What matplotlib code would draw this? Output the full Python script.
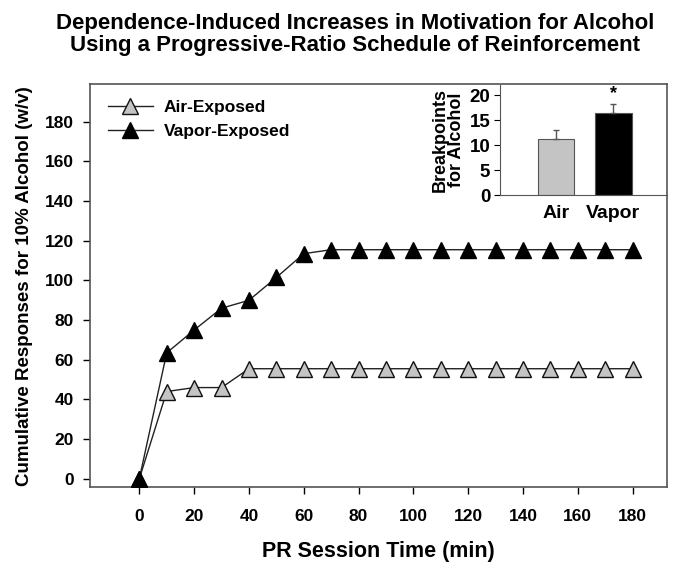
import numpy as np
import matplotlib
matplotlib.use('Agg')
from matplotlib import pyplot as plt

# data
time_min = [0, 10, 20, 30, 40, 50, 60, 70, 80, 90, 100, 110, 120, 130, 140, 150, 160, 170, 180]
air_exposed = [0, 44, 46, 46, 55.5, 55.5, 55.5, 55.5, 55.5, 55.5, 55.5, 55.5, 55.5, 55.5, 55.5, 55.5, 55.5, 55.5, 55.5]
vapor_exposed = [0, 63.5, 75, 86, 90, 101.5, 113.5, 115.5, 115.5, 115.5, 115.5, 115.5, 115.5, 115.5, 115.5, 115.5, 115.5, 115.5, 115.5]

groups = ['Air', 'Vapor']
breakpoints = [11.3, 16.4]
breakpoints_err = [1.8, 1.8]

plt.rcParams['font.family'] = ['Liberation Sans', 'DejaVu Sans']
plt.rcParams['font.weight'] = 'bold'

fig = plt.figure(figsize=(6.75, 5.72), dpi=100)
ax = fig.add_axes([0.1333, 0.148, 0.8547, 0.705])

ax.plot(time_min, air_exposed, color='#222222', lw=1.0, marker='^', ms=11,
        mfc='#c4c4c4', mec='#111111', mew=1.0, label='Air-Exposed', zorder=3)
ax.plot(time_min, vapor_exposed, color='#222222', lw=1.0, marker='^', ms=11,
        mfc='black', mec='black', mew=1.0, label='Vapor-Exposed', zorder=4)

ax.set_xlim(-18, 192.5)
ax.set_ylim(-4.3, 199)
ax.set_xticks(np.arange(0, 181, 20))
ax.set_yticks(np.arange(0, 181, 20))
ax.tick_params(direction='out', length=4.7, width=1, labelsize=12.5)
ax.tick_params(axis='x', pad=11)
ax.tick_params(axis='y', pad=7)
for lab in ax.get_xticklabels() + ax.get_yticklabels():
    lab.set_fontweight('bold')
for s in ax.spines.values():
    s.set_color('#555555')
    s.set_linewidth(1.2)

ax.set_xlabel('PR Session Time (min)', fontsize=15.5, fontweight='bold', labelpad=12)
ax.set_ylabel('Cumulative Responses for 10% Alcohol (w/v)', fontsize=13.5, fontweight='bold', labelpad=8)

leg = ax.legend(loc='upper left', frameon=False, fontsize=12.5, handlelength=2.6,
                borderaxespad=0.3, handletextpad=0.6, labelspacing=0.5,
                bbox_to_anchor=(0.01, 0.99))

fig.text(0.526, 0.977, 'Dependence-Induced Increases in Motivation for Alcohol\n'
         'Using a Progressive-Ratio Schedule of Reinforcement',
         ha='center', va='top', fontsize=16, fontweight='bold', linespacing=1.05)

# inset bar chart
ins = fig.add_axes([0.7407, 0.659, 0.2474, 0.1923])
ins.bar([0, 1], breakpoints, width=0.63, color=['#c4c4c4', 'black'],
        edgecolor='#555555', linewidth=0.8,
        yerr=[[0, 0], breakpoints_err], error_kw=dict(ecolor='#555555', capsize=2.5, elinewidth=1))
ins.text(1, breakpoints[1] + breakpoints_err[1] + 0.4, '*', ha='center', va='bottom',
         fontsize=13, fontweight='bold')
ins.set_xlim(-0.97, 1.93)
ins.set_ylim(0, 22)
ins.set_yticks([0, 5, 10, 15, 20])
ins.set_xticks([0, 1])
ins.set_xticklabels(groups)
ins.tick_params(axis='x', length=0, labelsize=14, pad=7)
ins.tick_params(axis='y', direction='out', length=4, labelsize=13.5, pad=3)
for lab in ins.get_xticklabels() + ins.get_yticklabels():
    lab.set_fontweight('bold')
ins.spines['top'].set_visible(False)
ins.spines['right'].set_visible(False)
ins.spines['left'].set_color('#555555')
ins.spines['bottom'].set_color('#555555')
ins.set_ylabel('Breakpoints\nfor Alcohol', fontsize=13, fontweight='bold', labelpad=3, linespacing=1.0)
ins.patch.set_alpha(0)

fig.savefig('out.png', dpi=100)
